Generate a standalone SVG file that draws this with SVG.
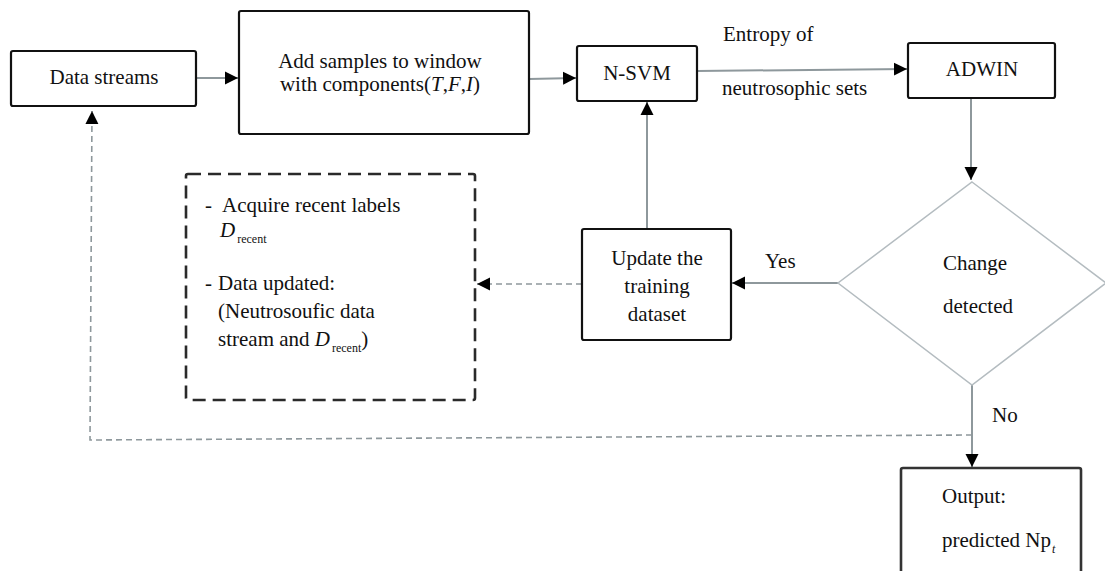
<svg xmlns="http://www.w3.org/2000/svg" width="1105" height="571" viewBox="0 0 1105 571">
<defs>
<style>
.box{fill:#fff;stroke:#111;stroke-width:2.2}
.t{font-family:"Liberation Serif","Times New Roman",serif;font-size:21px;fill:#111}
.sub{font-size:12px}
.con{fill:none;stroke:#8e989c;stroke-width:2}
.dash{fill:none;stroke:#8e989c;stroke-width:1.6;stroke-dasharray:6 4}
</style>
<marker id="ah" markerUnits="userSpaceOnUse" markerWidth="14" markerHeight="14" refX="13" refY="7" orient="auto">
<path d="M0,0.5 L13,7 L0,13.5 z" fill="#000"/>
</marker>
</defs>
<rect width="1105" height="571" fill="#fff"/>

<g id="connectors">
<line class="con" x1="196" y1="78" x2="238" y2="78" marker-end="url(#ah)"/>
<line class="con" x1="529" y1="79" x2="576" y2="78" marker-end="url(#ah)"/>
<line class="con" x1="697" y1="71" x2="907" y2="69" marker-end="url(#ah)"/>
<line class="con" x1="971" y1="98" x2="971" y2="180" marker-end="url(#ah)"/>
<line class="con" x1="838" y1="283" x2="732" y2="283" marker-end="url(#ah)"/>
<line class="con" x1="647" y1="229" x2="647" y2="102" marker-end="url(#ah)"/>
<line class="dash" x1="582" y1="284" x2="477" y2="284" marker-end="url(#ah)"/>
<line class="con" x1="972" y1="385" x2="972" y2="467" marker-end="url(#ah)"/>
<polyline class="dash" points="972,435 90,440 92,111" marker-end="url(#ah)"/>
<text class="t" x="723" y="41">Entropy of</text>
<text class="t" x="722" y="95">neutrosophic sets</text>
<text class="t" x="765" y="268">Yes</text>
<text class="t" x="992" y="422">No</text>
</g>

<g id="data-streams">
<rect class="box" x="11" y="51" width="185" height="55" rx="2"/>
<text class="t" x="104" y="84" text-anchor="middle">Data streams</text>
</g>

<g id="add-samples">
<rect class="box" x="239" y="11" width="290" height="123" rx="2"/>
<text class="t" x="380" y="68" text-anchor="middle">Add samples to window</text>
<text class="t" x="380" y="91" text-anchor="middle">with components(<tspan font-style="italic">T</tspan>,<tspan font-style="italic">F</tspan>,<tspan font-style="italic">I</tspan>)</text>
</g>

<g id="n-svm">
<rect class="box" x="577" y="46" width="120" height="55" rx="2"/>
<text class="t" x="637" y="80" text-anchor="middle">N-SVM</text>
</g>

<g id="adwin">
<rect class="box" x="908" y="43" width="147" height="55" rx="2"/>
<text class="t" x="982" y="76" text-anchor="middle">ADWIN</text>
</g>

<g id="change-detected">
<polygon points="972,182 1106,283 972,385 838,283" fill="#fff" stroke="#b4bcc0" stroke-width="1.5"/>
<text class="t" x="943" y="270">Change</text>
<text class="t" x="943" y="313">detected</text>
</g>

<g id="update-training">
<rect class="box" x="582" y="229" width="149" height="111" rx="2"/>
<text class="t" x="657" y="265" text-anchor="middle">Update the</text>
<text class="t" x="657" y="293" text-anchor="middle">training</text>
<text class="t" x="657" y="321" text-anchor="middle">dataset</text>
</g>

<g id="recent-labels">
<rect x="186" y="174" width="289" height="226" rx="2" fill="none" stroke="#2a2a2a" stroke-width="2.6" stroke-dasharray="13 7"/>
<text class="t" x="205" y="212">-</text>
<text class="t" x="222" y="212">Acquire recent labels</text>
<text class="t" x="220" y="237"><tspan font-style="italic">D</tspan><tspan class="sub" dy="6" dx="2">recent</tspan></text>
<text class="t" x="205" y="290">-</text>
<text class="t" x="218" y="290">Data updated:</text>
<text class="t" x="218" y="318">(Neutrosoufic data</text>
<text class="t" x="218" y="346">stream and <tspan font-style="italic">D</tspan><tspan class="sub" dy="6" dx="2">recent</tspan><tspan dy="-6">)</tspan></text>
</g>

<g id="output">
<rect x="901" y="468" width="180" height="120" rx="2" fill="#fff" stroke="#333" stroke-width="2.6"/>
<text class="t" x="942" y="503">Output:</text>
<text class="t" x="942" y="547">predicted Np<tspan class="sub" font-style="italic" dy="6" dx="1">t</tspan></text>
</g>
</svg>
